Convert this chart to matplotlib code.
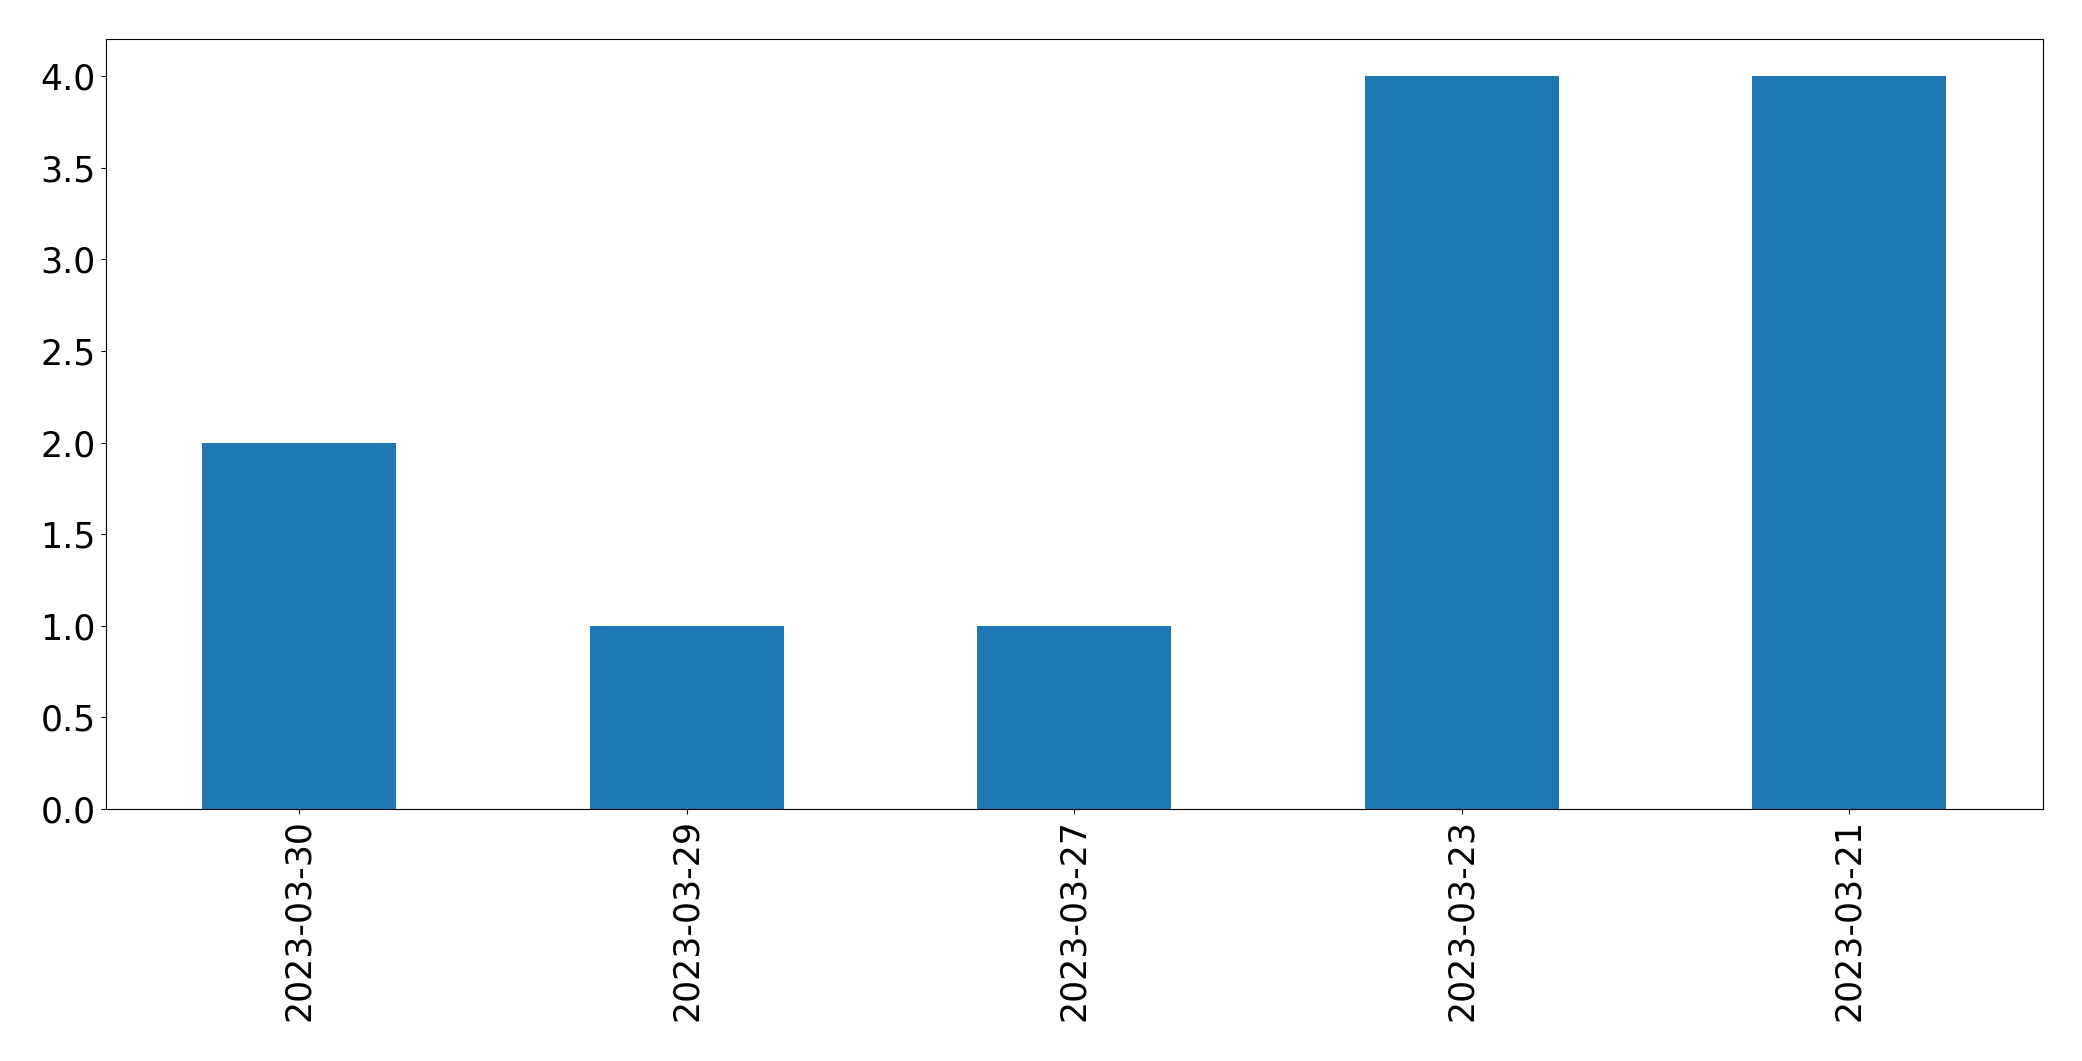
import matplotlib
matplotlib.use("Agg")
import matplotlib.pyplot as plt

dates = ["2023-03-30", "2023-03-29", "2023-03-27", "2023-03-23", "2023-03-21"]
counts = [2, 1, 1, 4, 4]

fig = plt.figure(figsize=(20.82, 10.61), dpi=100)
ax = fig.add_subplot(111)
fig.subplots_adjust(left=0.0507, right=0.9813, top=0.9628, bottom=0.2375)

x = range(len(dates))
ax.bar(x, counts, width=0.5, color="#1f77b4")
ax.set_xlim(-0.5, len(dates) - 0.5)
ax.set_xticks(list(x))
ax.set_xticklabels(dates, rotation=90)
ax.tick_params(labelsize=25)

fig.savefig("out.png", dpi=100)
